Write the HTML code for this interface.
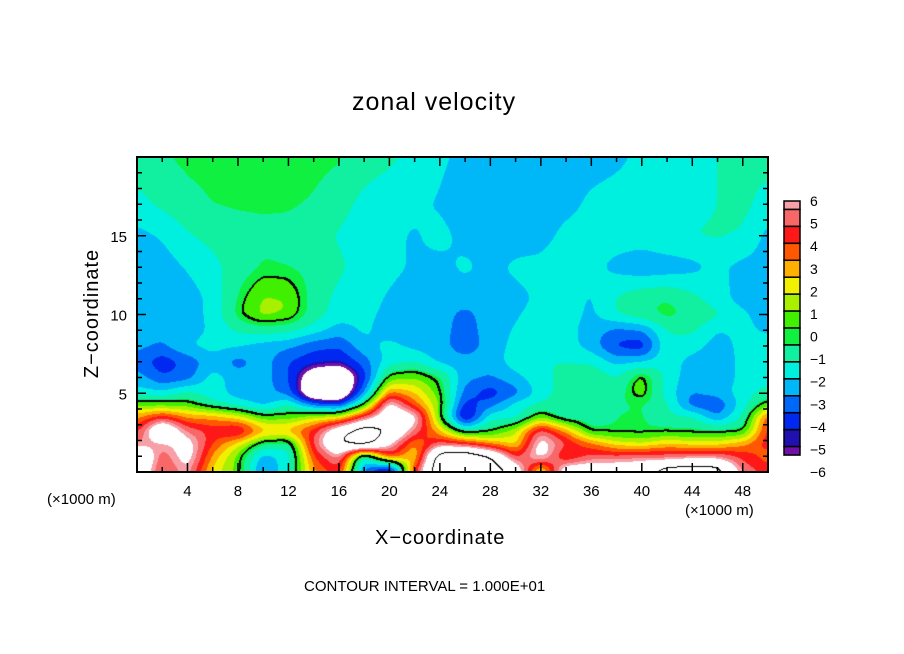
<!DOCTYPE html>
<html><head><meta charset="utf-8"><style>
body{margin:0;background:#fff;width:904px;height:654px;overflow:hidden;position:relative;font-family:"Liberation Sans","DejaVu Sans",sans-serif;}
.t{position:absolute;white-space:nowrap;color:#000;}
</style></head><body>
<div class="t" style="left:352px;top:88px;font-size:25px;letter-spacing:1px;">zonal velocity</div>
<canvas id="field" width="631" height="315" style="position:absolute;left:137px;top:157px;"></canvas>
<svg id="ov" width="904" height="654" style="position:absolute;left:0;top:0;"></svg>
<div class="t" style="left:375px;top:527px;font-size:20px;letter-spacing:1px;">X−coordinate</div>
<div class="t" style="left:28px;top:302px;font-size:20px;letter-spacing:1px;transform:rotate(-90deg);transform-origin:center;">Z−coordinate</div>
<div class="t" style="left:47px;top:491px;font-size:15px;">(×1000 m)</div>
<div class="t" style="left:685px;top:502px;font-size:15px;">(×1000 m)</div>
<div class="t" style="left:304px;top:578px;font-size:15px;">CONTOUR INTERVAL = 1.000E+01</div>
<script>
const xs=[0,2,4,6,8,10,12,14,16,18,20,22,24,26,28,30,32,34,36,38,40,42,44,46,48,50];
const zs=[20,17,15,13,11,10,9,8,7,6,5,4.3,3.5,2.6,1.8,1,0];
const r20=[-1.0,-0.6,-0.3,-0.2,-0.1,-0.1,-0.1,-0.2,-0.4,-1.0,-1.3,-1.8,-2.3,-2.8,-3,-3,-3,-3,-2.9,-2.7,-2.3,-1.9,-1.7,-1.5,-1.2,-1.0];
const r17=[-1.8,-1.3,-0.8,-0.5,-0.4,-0.4,-0.4,-0.6,-1.1,-1.8,-2.1,-2.3,-2.6,-3.2,-3.3,-3.3,-3.1,-2.8,-2.3,-2.1,-2.0,-1.9,-1.7,-1.5,-1.2,-2.0];
const r15=[-2.8,-2.4,-1.6,-1.2,-0.9,-0.7,-0.8,-1.1,-1.6,-2.1,-2.3,-2.6,-2.2,-2.8,-3.1,-3.0,-2.9,-2.2,-2.1,-2.0,-2.0,-1.6,-1.5,-1.4,-1.6,-2.8];
const r13=[-3.3,-3.0,-2.4,-1.8,-1.0,-0.4,-0.5,-0.8,-1.3,-2.0,-2.3,-2.6,-2.8,-2.3,-2.8,-2.3,-2.2,-1.7,-2.2,-2.8,-3.2,-3.1,-2.8,-2.3,-2.8,-3.0];
const r11=[-3.3,-3.2,-3.0,-2.2,-0.4,0.9,0.8,-0.9,-1.8,-2.2,-2.6,-2.9,-3.0,-3.1,-3.0,-2.8,-2.3,-2.1,-2.6,-1.4,-0.7,-0.5,-1.2,-2.0,-3.0,-3.6];
const r10=[-3.3,-3.3,-3.0,-2.2,-0.2,1.1,0.7,-1.0,-2.0,-2.3,-2.7,-3.0,-3.1,-3.8,-3.0,-2.6,-2.1,-2.1,-2.7,-1.5,-0.8,-0.2,-0.7,-1.3,-2.2,-3.2];
const r9=[-3.2,-3.3,-3.0,-2.3,-1.3,-1.0,-1.2,-2.0,-3.0,-2.3,-3.0,-3.0,-3.1,-4.0,-3.0,-2.4,-2.0,-2.1,-3.0,-3.8,-3.5,-1.5,-1.3,-2.5,-2.3,-2.6];
const r8=[-3.2,-3.6,-2.5,-2.1,-2.4,-3.0,-3.3,-4.2,-4.4,-2.8,-2.2,-2.8,-3.1,-4.2,-3.0,-2.2,-1.6,-2.0,-3.0,-4.8,-5.3,-1.6,-2.0,-3.0,-2.2,-2.2];
const r7=[-4.0,-5.2,-4.2,-3.0,-4.0,-3.0,-4.5,-5.2,-5.5,-4.0,-2.0,-1.5,-2.8,-3.0,-3.0,-2.0,-1.5,-1.5,-1.6,-2.8,-2.5,-1.8,-3.0,-3.2,-2.2,-2.2];
const r6=[-3.0,-4.4,-4.0,-2.0,-3.0,-3.0,-4.5,-8,-9,-5.0,0.3,0.8,-0.3,-3.2,-3.6,-2.8,-1.8,-1.2,-0.8,-1.5,0.4,-1.8,-3.2,-3.2,-2.2,-2.0];
const r5=[-2.0,-2.2,-1.2,-2.0,-3.0,-3.0,-4.0,-9,-9,-3.5,3.5,2.5,0.3,-4.0,-5.2,-4.0,-2.0,-1.0,-0.5,-1.0,0.6,-2.0,-3.5,-3.0,-2.0,-1.0];
const r43=[0.5,0.3,0.3,-1.2,-2.0,-3.0,-1.3,-4.0,-5.0,-0.3,7,3.5,0.8,-5.0,-4.0,-2.0,-1.3,-1.0,-0.8,-0.6,-0.5,-1.3,-4.2,-4.5,-2.0,0.3];
const r35=[3.0,4.5,3.0,3.0,2.0,0.3,0.3,1.5,1.8,5,8,7,0.3,-6.5,-1.8,-2.0,0.5,-1.3,-1.0,-0.5,-0.4,-1.3,-1.3,-3.5,-1.3,4];
const r26=[4.5,9,5.5,4.5,5.5,3,3,4.5,8,10.5,9,5.5,2.5,-1.0,-0.3,1.5,5.5,3.0,-0.4,-0.4,-0.4,-0.3,-0.4,-0.4,-0.3,4.5];
const r18=[5.5,6,7,4,2,-0.5,-1.0,5,9,11,6.5,3,5,4.5,3,2,7,5,3.5,2,1.5,2.5,2,2,3,4.5];
const r1=[9,5,7,3,0.5,-3,-2,4,6,-2,4.5,2,10.5,11,9,4.5,7,3.5,5,5,5.5,5,5.5,5.5,4.5,3.5];
const r0=[8,4.5,6,2,0.5,-4,-1.5,3,4.5,-4,-8,4.5,11,12,11,8,1,8,8,8,8,10.5,11,10.5,5.5,4.5];
const rows=[r20,r17,r15,r13,r11,r10,r9,r8,r7,r6,r5,r43,r35,r26,r18,r1,r0];
const cbLevels=[6,5,4,3,2,1,0,-1,-2,-3,-4,-5,-6];
const xTicks=[4,8,12,16,20,24,28,32,36,40,44,48];
const zTicks=[5,10,15];
const COLS=['#f8a0a8','#f86868','#ff1818','#ff5800','#ffb000','#f0f000','#a8f000','#40f000','#10f040','#10f0a0','#00f0e0','#00b8f8','#0068f8','#0028f0','#2010b0','#7010a8'];
const PX=137,PY=157,PW=631,PH=315;
const sx=x=>PX+x/50*PW, sz=z=>PY+PH-z/20*PH;
function val(x,z){
  let i=Math.min(24,Math.max(0,Math.floor(x/2)));let fx=(x-xs[i])/2;
  let j=0;while(j<zs.length-2&&z<zs[j+1])j++;
  let fz=(zs[j]-z)/(zs[j]-zs[j+1]);
  const a=rows[j][i],b=rows[j][i+1],c=rows[j+1][i],d=rows[j+1][i+1];
  return (a*(1-fx)+b*fx)*(1-fz)+(c*(1-fx)+d*fx)*fz;
}
function hex(h){return [parseInt(h.substr(1,2),16),parseInt(h.substr(3,2),16),parseInt(h.substr(5,2),16)];}
const RGB=COLS.map(hex);
function blur(V,W,H,r){
  const T=new Float32Array(W*H);
  for(let y=0;y<H;y++){for(let x=0;x<W;x++){let s=0,n=0;for(let k=-r;k<=r;k++){const q=Math.min(W-1,Math.max(0,x+k));s+=V[y*W+q];n++;}T[y*W+x]=s/n;}}
  for(let x=0;x<W;x++){for(let y=0;y<H;y++){let s=0,n=0;for(let k=-r;k<=r;k++){const q=Math.min(H-1,Math.max(0,y+k));s+=T[q*W+x];n++;}V[y*W+x]=s/n;}}
}
function colorOf(v){
  if(v>6.2||v<-6.3)return [255,255,255];
  let k;
  if(v>=0){k=7-Math.floor(v*1.25);}else{k=8+Math.floor(-v+0.5);if(v<-5.8)k=15;}
  k=Math.max(0,Math.min(15,k));return RGB[k];
}
(function(){
  const cv=document.getElementById('field'),ctx=cv.getContext('2d');
  const im=ctx.createImageData(PW,PH);const V=new Float32Array(PW*PH);
  for(let py=0;py<PH;py++)for(let px=0;px<PW;px++){V[py*PW+px]=val((px+0.5)/PW*50,20-(py+0.5)/PH*20);}
  blur(V,PW,PH,5);blur(V,PW,PH,4);
  for(let py=0;py<PH;py++)for(let px=0;px<PW;px++){
    const v=V[py*PW+px];let c=colorOf(v);
    const s=v>=0;let blk=false,thin=false;
    for(const [dx,dy] of [[1,0],[0,1],[2,0],[0,2],[1,1]]){
      const qx=px+dx,qy=py+dy;if(qx>=PW||qy>=PH)continue;
      if((V[qy*PW+qx]>=0)!==s)blk=true;
    }
    for(const [dx,dy] of [[1,0],[0,1]]){
      const qx=px+dx,qy=py+dy;if(qx>=PW||qy>=PH)continue;
      const w=V[qy*PW+qx];if((w>9)!==(v>9))thin=true;
    }
    if(blk||thin)c=[0,0,0];
    const o=(py*PW+px)*4;im.data[o]=c[0];im.data[o+1]=c[1];im.data[o+2]=c[2];im.data[o+3]=255;
  }
  ctx.putImageData(im,0,0);
})();
(function(){
  const ns='http://www.w3.org/2000/svg',svg=document.getElementById('ov');
  function mk(t,a){const e=document.createElementNS(ns,t);for(const k in a)e.setAttribute(k,a[k]);svg.appendChild(e);return e;}
  const fr=mk('rect',{x:PX,y:PY,width:PW,height:PH,fill:'none',stroke:'#000','stroke-width':2});
  
  
  for(let x=2;x<50;x+=2){const L=(x%4===0)?9:5;
    const t1=mk('line',{x1:sx(x),x2:sx(x),y1:PY+PH,y2:PY+PH-L,stroke:'#000','stroke-width':1.5});
    
    
    const t2=mk('line',{x1:sx(x),x2:sx(x),y1:PY,y2:PY+L,stroke:'#000','stroke-width':1.5});
    
    }
  for(let z=1;z<20;z++){const L=(z%5===0)?9:5;
    const t1=mk('line',{x1:PX,x2:PX+L,y1:sz(z),y2:sz(z),stroke:'#000','stroke-width':1.5});
    
    
    const t2=mk('line',{x1:PX+PW,x2:PX+PW-L,y1:sz(z),y2:sz(z),stroke:'#000','stroke-width':1.5});
    
    }
  xTicks.forEach(x=>{const t=mk('text',{x:sx(x),y:496,'text-anchor':'middle','font-size':15,'font-family':'Liberation Sans, sans-serif'});t.textContent=x;
    
    });
  zTicks.forEach(z=>{const t=mk('text',{x:127,y:sz(z)+6,'text-anchor':'end','font-size':15,'font-family':'Liberation Sans, sans-serif'});t.textContent=z;
    
    });
  const CB0=201,CB1=472,unit=(CB1-CB0)/16;let y=CB0;
  for(let k=0;k<16;k++){const h=(k===0||k===15)?unit/2:unit;
    const r=mk('rect',{x:784,y:y,width:16,height:h,fill:COLS[k],stroke:'#000','stroke-width':1.5});
    
    
    y+=h;}
  cbLevels.forEach((v,i)=>{const t=mk('text',{x:810,y:CB0+i*(CB1-CB0)/12+5,'font-size':14,'font-family':'Liberation Sans, sans-serif'});t.textContent=(v<0?'−'+(-v):v);
    
    });
})();
</script>
</body></html>
